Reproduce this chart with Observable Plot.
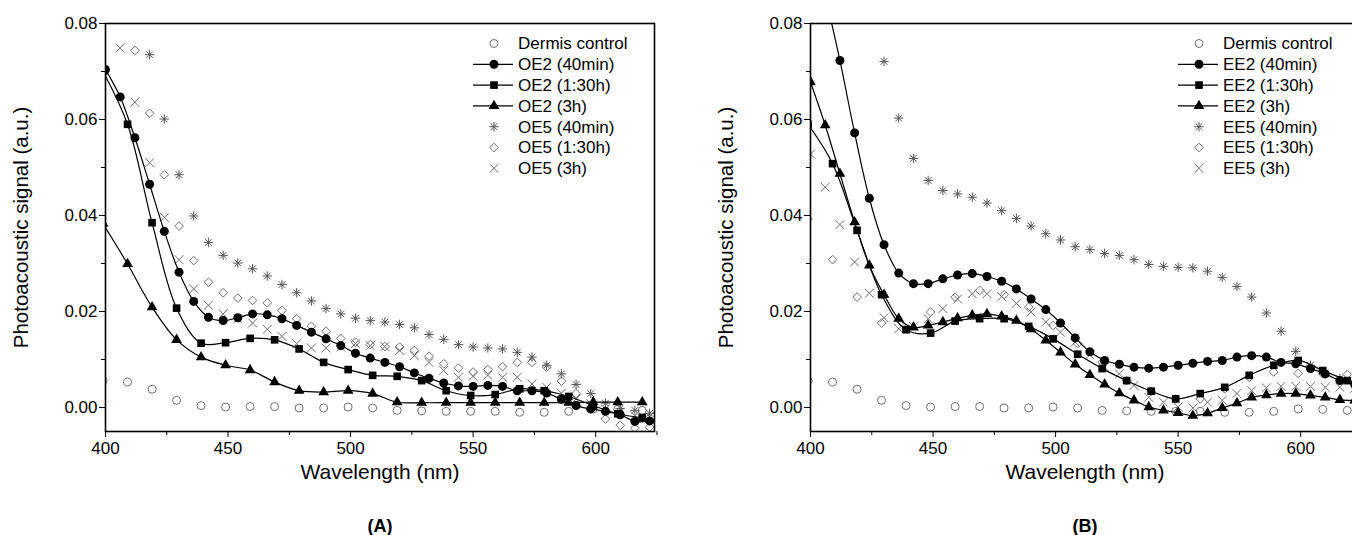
<!DOCTYPE html>
<html><head><meta charset="utf-8">
<script src="https://cdn.jsdelivr.net/npm/d3@7"></script>
<script src="https://cdn.jsdelivr.net/npm/@observablehq/plot@0.6"></script>
<style>
html,body{margin:0;padding:0;background:#fff;overflow:hidden;}
#wrap{position:relative;width:1352px;height:535px;overflow:hidden;background:#fff;}
.panel{position:absolute;top:0;width:676px;height:535px;}
.panel svg{max-width:none !important;}
</style></head><body><div id="wrap"></div>
<script>
// ---------- tick labels ----------
const xTicks = [400, 450, 500, 550, 600];
const xMinor = [425, 475, 525, 575, 625];
const yTicks = [0, 0.02, 0.04, 0.06, 0.08];
const yMinor = [0.01, 0.03, 0.05, 0.07];

// ---------- wavelength grids ----------
const wl10 = [399,409,419,429,439,449,459,469,479,489,499,509,519,529,539,549,559,569,579,589,599,609,619];
const wl6a = [400,406,412,418,424,430,436,442,448,454,460,466,472,478,484,490,496,502,508,514,520,526,532,538,544,550,556,562,568,574,580,586,592,598,604,610,616,622];
const wl6from406 = [406,412,418,424,430,436,442,448,454,460,466,472,478,484,490,496,502,508,514,520,526,532,538,544,550,556,562,568,574,580,586,592,598,604,610,616,622];
const wl6from412 = [412,418,424,430,436,442,448,454,460,466,472,478,484,490,496,502,508,514,520,526,532,538,544,550,556,562,568,574,580,586,592,598,604,610,616,622];
const wl6from418 = [418,424,430,436,442,448,454,460,466,472,478,484,490,496,502,508,514,520,526,532,538,544,550,556,562,568,574,580,586,592,598,604,610,616,622];
const wl6from430 = [430,436,442,448,454,460,466,472,478,484,490,496,502,508,514,520,526,532,538,544,550,556,562,568,574,580,586,592,598,604,610,616,622];

// ---------- shared control ----------
const dermis = [0.0056,0.0053,0.0038,0.0015,0.0004,0.0001,0.0002,0.0002,-0.0001,-0.0001,0.0001,-0.0001,-0.0006,-0.0007,-0.0008,-0.0008,-0.0008,-0.0010,-0.0010,-0.0008,-0.0003,-0.0004,-0.0006];

// ---------- panel A ----------
const oe2_40 = [0.0704,0.0647,0.0562,0.0465,0.0367,0.0282,0.0221,0.0188,0.0181,0.0187,0.0195,0.0193,0.0185,0.0171,0.0157,0.0143,0.0129,0.0113,0.0103,0.0094,0.0085,0.0072,0.0061,0.0051,0.0045,0.0044,0.0046,0.0044,0.0035,0.0035,0.0030,0.0017,0.0004,-0.0003,-0.0008,-0.0015,-0.0029,-0.0028];
const oe2_130 = [0.0700,0.0590,0.0385,0.0207,0.0134,0.0135,0.0144,0.0141,0.0122,0.0094,0.0079,0.0067,0.0065,0.0056,0.0035,0.0025,0.0027,0.0039,0.0035,0.0023,0.0004,-0.0013,-0.0021];
const oe2_3h = [0.0383,0.0299,0.0209,0.0141,0.0105,0.0088,0.0078,0.0053,0.0035,0.0032,0.0035,0.0029,0.0011,0.0010,0.0010,0.0010,0.0010,0.0010,0.0010,0.0010,0.0011,0.0011,0.0011];
const oe5_40 = [0.0735,0.0601,0.0485,0.0399,0.0344,0.0317,0.0301,0.0289,0.0274,0.0256,0.0239,0.0222,0.0206,0.0195,0.0186,0.0181,0.0178,0.0173,0.0166,0.0152,0.0142,0.0131,0.0126,0.0124,0.0122,0.0115,0.0105,0.0088,0.0070,0.0048,0.0029,0.0009,-0.0002,-0.0006,-0.0012];
const oe5_130 = [0.0744,0.0613,0.0485,0.0378,0.0306,0.0261,0.0239,0.0228,0.0223,0.0218,0.0202,0.0185,0.0169,0.0159,0.0144,0.0136,0.0131,0.0127,0.0126,0.0119,0.0107,0.0091,0.0082,0.0074,0.0079,0.0085,0.0094,0.0094,0.0084,0.0055,0.0029,-0.0003,-0.0024,-0.0037,-0.0043,-0.0041];
const oe5_3h = [0.0749,0.0636,0.0510,0.0396,0.0308,0.0247,0.0213,0.0195,0.0185,0.0176,0.0163,0.0148,0.0133,0.0124,0.0124,0.0126,0.0133,0.0129,0.0127,0.0119,0.0108,0.0094,0.0077,0.0063,0.0065,0.0067,0.0063,0.0063,0.0049,0.0042,0.0030,0.0018,0.0008,-0.0003,-0.0010,-0.0017,-0.0019];

// ---------- panel B ----------
const ee2_40 = [0.100,0.086,0.0723,0.0572,0.0436,0.0339,0.0280,0.0258,0.0258,0.0268,0.0276,0.0279,0.0273,0.0263,0.0247,0.0226,0.0204,0.0176,0.0145,0.0116,0.0098,0.0090,0.0084,0.0082,0.0084,0.0088,0.0092,0.0096,0.0098,0.0105,0.0108,0.0105,0.0094,0.0091,0.0081,0.0070,0.0056,0.0048];
const ee2_130 = [0.0590,0.0508,0.0369,0.0235,0.0162,0.0155,0.0180,0.0185,0.0185,0.0169,0.0143,0.0111,0.0081,0.0056,0.0034,0.0018,0.0029,0.0042,0.0067,0.0088,0.0098,0.0077,0.0056];
const ee2_3h = [0.0678,0.0588,0.0487,0.0386,0.0296,0.0235,0.0185,0.0167,0.0171,0.0178,0.0186,0.0192,0.0195,0.0190,0.0181,0.0163,0.0140,0.0115,0.0090,0.0068,0.0048,0.0030,0.0015,0.0001,-0.0006,-0.0011,-0.0017,-0.0012,-0.0001,0.0009,0.0021,0.0026,0.0029,0.0029,0.0025,0.0021,0.0016,0.0015];
const ee5_40 = [0.0721,0.0603,0.0519,0.0473,0.0452,0.0445,0.0438,0.0426,0.0410,0.0394,0.0378,0.0362,0.0349,0.0335,0.0329,0.0321,0.0317,0.0308,0.0298,0.0294,0.0292,0.0291,0.0284,0.0271,0.0252,0.0230,0.0197,0.0159,0.0117,0.0088,0.0071,0.0060,0.0050];
const ee5_130 = [0.0393,0.0308,0.0230,0.0176,0.0164,0.0199,0.0230,0.0244,0.0235,0.0209,0.0171,0.0133,0.0094,0.0056,0.0034,0.0018,0.0018,0.0039,0.0063,0.0074,0.0071,0.0070,0.0069];
const ee5_3h = [0.0528,0.0459,0.0381,0.0303,0.0238,0.0187,0.0164,0.0169,0.0185,0.0206,0.0226,0.0237,0.0237,0.0231,0.0217,0.0199,0.0178,0.0157,0.0136,0.0110,0.0084,0.0070,0.0046,0.0021,0.0011,0.0001,-0.0001,0.0011,0.0015,0.0029,0.0035,0.0041,0.0044,0.0044,0.0044,0.0042,0.0042,0.0040];

const namesA = ["Dermis control","OE2 (40min)","OE2 (1:30h)","OE2 (3h)","OE5 (40min)","OE5 (1:30h)","OE5 (3h)"];
const namesB = ["Dermis control","EE2 (40min)","EE2 (1:30h)","EE2 (3h)","EE5 (40min)","EE5 (1:30h)","EE5 (3h)"];

// ---------- symbols & styles ----------
const asterisk8 = {
  draw(ctx, size) {
    const r = Math.sqrt(size / Math.PI) * 1.1, d = r * Math.SQRT1_2;
    ctx.moveTo(-r, 0); ctx.lineTo(r, 0);
    ctx.moveTo(0, -r); ctx.lineTo(0, r);
    ctx.moveTo(-d, -d); ctx.lineTo(d, d);
    ctx.moveTo(-d, d); ctx.lineTo(d, -d);
  }
};
const GRAY = "#707070";
const styles = [
  {sym: "circle", d3sym: d3.symbolCircle, r: 4.0, filled: false, line: false, color: GRAY},
  {sym: "circle", d3sym: d3.symbolCircle, r: 4.5, filled: true, line: true},
  {sym: "square", d3sym: d3.symbolSquare, r: 4.3, filled: true, line: true},
  {sym: "triangle", d3sym: d3.symbolTriangle, r: 4.0, filled: true, line: true},
  {sym: asterisk8, d3sym: asterisk8, r: 4.3, filled: false, line: false, color: "#555"},
  {sym: "diamond2", d3sym: d3.symbolDiamond2, r: 3.9, filled: false, line: false, color: GRAY},
  {sym: "times", d3sym: d3.symbolTimes, r: 4.1, filled: false, line: false, color: GRAY}
];

const FONT = "Arial, 'Liberation Sans', Helvetica, sans-serif";

function panel(seriesX, seriesY, names, letter) {
  const marks = [];
  const rowsOf = i => seriesX[i].map((x, j) => ({x, y: seriesY[i][j]}));
  [0, 4, 5, 6].forEach(i => {
    const s = styles[i];
    marks.push(Plot.dot(rowsOf(i), {x: "x", y: "y", symbol: s.sym, r: s.r, fill: "none", stroke: s.color, strokeWidth: 1, clip: true}));
  });
  [1, 2, 3].forEach(i => {
    marks.push(Plot.line(rowsOf(i), {x: "x", y: "y", curve: "catmull-rom", stroke: "black", strokeWidth: 1.2, clip: true}));
  });
  [1, 2, 3].forEach(i => {
    const s = styles[i];
    marks.push(Plot.dot(rowsOf(i), {x: "x", y: "y", symbol: s.sym, r: s.r, fill: "black", stroke: "none", clip: true}));
  });
  marks.push(
    Plot.frame({stroke: "black", strokeWidth: 1.6}),
    Plot.axisX(xTicks, {tickSize: 6, tickPadding: 4, fontSize: 17, label: null}),
    Plot.axisX(xMinor, {tickSize: 4, text: null, label: null}),
    Plot.axisY(yTicks, {tickSize: 6, tickPadding: 2, fontSize: 17, tickFormat: d3.format(".2f"), label: null}),
    Plot.axisY(yMinor, {tickSize: 4, text: null, label: null}),
    Plot.text(["Wavelength (nm)"], {text: d => d, frameAnchor: "bottom", dy: 47, fontSize: 21}),
    Plot.text(["Photoacoustic signal (a.u.)"], {text: d => d, frameAnchor: "left", textAnchor: "middle", dx: -84, rotate: -90, fontSize: 20.5}),
    Plot.text([letter], {text: d => d, frameAnchor: "bottom", dy: 100, fontSize: 18, fontWeight: "bold"})
  );
  const svg = Plot.plot({
    width: 676, height: 535,
    marginLeft: 105, marginRight: 22, marginTop: 23, marginBottom: 104,
    style: {fontFamily: FONT, fontSize: "17px", background: "white", color: "black", overflow: "visible", maxWidth: "none"},
    x: {domain: [400, 624]},
    y: {domain: [-0.005, 0.08]},
    marks
  });
  // legend
  const g = d3.select(svg).append("g").attr("font-family", FONT).attr("font-size", 17).attr("text-anchor", "start");
  names.forEach((name, i) => {
    const s = styles[i];
    const cy = 43.5 + i * 20.8;
    if (s.line) g.append("line").attr("x1", 473).attr("x2", 513).attr("y1", cy).attr("y2", cy).attr("stroke", "black").attr("stroke-width", 1.2);
    g.append("path")
      .attr("transform", `translate(494,${cy})`)
      .attr("d", d3.symbol(s.d3sym, s.r * s.r * Math.PI)())
      .attr("fill", s.filled ? "black" : "none")
      .attr("stroke", s.filled ? "none" : s.color)
      .attr("stroke-width", 1);
    g.append("text").attr("x", 518).attr("y", cy).attr("dy", "0.35em").attr("fill", "black").attr("text-anchor", "start").text(name);
  });
  return svg;
}

const wrap = document.getElementById("wrap");
const left = document.createElement("div"); left.className = "panel"; left.style.left = "0px";
const right = document.createElement("div"); right.className = "panel"; right.style.left = "705px";
left.appendChild(panel(
  [wl10, wl6a, wl10, wl10, wl6from418, wl6from412, wl6from406],
  [dermis, oe2_40, oe2_130, oe2_3h, oe5_40, oe5_130, oe5_3h], namesA, "(A)"));
right.appendChild(panel(
  [wl10, wl6a, wl10, wl6a, wl6from430, wl10, wl6a],
  [dermis, ee2_40, ee2_130, ee2_3h, ee5_40, ee5_130, ee5_3h], namesB, "(B)"));
wrap.appendChild(left); wrap.appendChild(right);
</script>
</body></html>
